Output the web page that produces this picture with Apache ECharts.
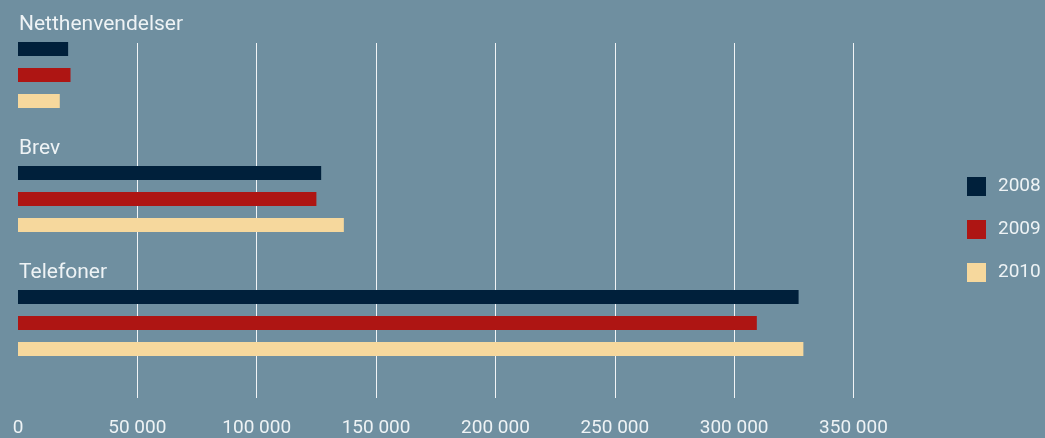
<!DOCTYPE html>
<html>
<head>
<meta charset="utf-8">
<script src="https://cdn.jsdelivr.net/npm/echarts@6/dist/echarts.min.js"></script>
<style>
  html, body { margin: 0; padding: 0; background: #6f8fa0; }
  #chart { width: 1045px; height: 438px; }
</style>
</head>
<body>
<div id="chart"></div>
<script>
// Henvendelser per kanal, 2008–2010
const categories = ['Netthenvendelser', 'Brev', 'Telefoner'];
const years = ['2008', '2009', '2010'];
const values2008 = [21000, 127000, 327000];
const values2009 = [22000, 125000, 309500];
const values2010 = [17500, 136500, 329000];
const tickValues = [0, 50000, 100000, 150000, 200000, 250000, 300000, 350000];

const colors = ['#00203b', '#ae1513', '#f6d89d'];
const textColor = '#eef3f5';
const fontFamily = 'Roboto, "DejaVu Sans", sans-serif';

const chart = echarts.init(document.getElementById('chart'));

const fmt = v => String(v).replace(/\B(?=(\d{3})+(?!\d))/g, ' ');

const seriesData = [values2008, values2009, values2010];

chart.setOption({
  backgroundColor: '#6f8fa0',
  animation: false,
  textStyle: { fontFamily: fontFamily },
  legend: {
    orient: 'vertical',
    left: 967,
    top: 177,
    padding: 0,
    itemWidth: 19,
    itemHeight: 19,
    itemGap: 24,
    icon: 'rect',
    data: years,
    textStyle: { color: textColor, fontSize: 19, fontFamily: fontFamily, padding: [0, 0, 0, 7] }
  },
  grid: [
    // bars
    { left: 18, right: 191.5, top: 13, bottom: 53 },
    // gridlines and value ticks
    { left: 18, right: 191.5, top: 43, bottom: 40 }
  ],
  xAxis: [
    {
      gridIndex: 0, type: 'value', min: 0, max: 350000, interval: 50000,
      show: false
    },
    {
      gridIndex: 1, type: 'value', min: 0, max: 350000, interval: 50000,
      axisLine: { show: false },
      axisTick: { show: false },
      splitLine: {
        show: true,
        lineStyle: {
          color: tickValues.map((v, i) => i === 0 ? 'rgba(0,0,0,0)' : 'rgba(255,255,255,0.9)'),
          width: 1
        }
      },
      axisLabel: {
        color: textColor, fontSize: 19, margin: 21,
        formatter: v => fmt(v)
      }
    }
  ],
  yAxis: [
    {
      gridIndex: 0, type: 'category', data: categories, inverse: true,
      axisLine: { show: false },
      axisTick: { show: false },
      splitLine: { show: false },
      axisLabel: {
        inside: true,
        margin: 1,
        color: textColor,
        fontSize: 21,
        align: 'left',
        verticalAlign: 'bottom',
        padding: [0, 0, 40, 0]
      }
    },
    {
      gridIndex: 1, type: 'category', data: categories, show: false
    }
  ],
  series: years.map((y, i) => ({
    name: y,
    type: 'bar',
    xAxisIndex: 0,
    yAxisIndex: 0,
    data: seriesData[i],
    barWidth: 14,
    barGap: '85.7%',
    itemStyle: { color: colors[i] }
  }))
});
</script>
</body>
</html>
